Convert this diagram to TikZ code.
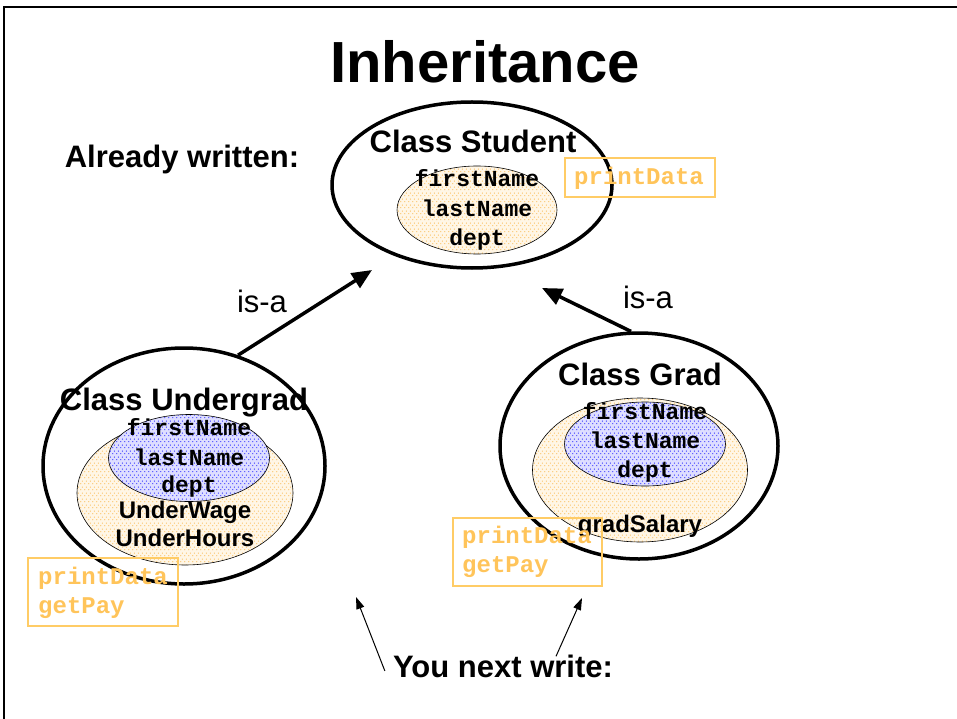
\documentclass[tikz,border=0pt]{standalone}
\usepackage{fontspec}
\setmainfont{Liberation Sans}
\newfontfamily\monob{Liberation Mono}
\usetikzlibrary{shapes.geometric,arrows.meta,patterns}
\definecolor{boxor}{RGB}{255,204,102}
\definecolor{textor}{RGB}{255,196,90}
\definecolor{dotor}{RGB}{250,185,80}
\definecolor{dotbl}{RGB}{30,30,255}
\definecolor{tintor}{RGB}{255,246,230}
\definecolor{tintbl}{RGB}{222,222,255}
\pgfdeclarepatternformonly{stagdots}{\pgfpointorigin}{\pgfqpoint{4pt}{6pt}}{\pgfqpoint{4pt}{6pt}}{%
  \pgfpathcircle{\pgfqpoint{1pt}{1.5pt}}{0.7pt}%
  \pgfpathcircle{\pgfqpoint{3pt}{4.5pt}}{0.7pt}%
  \pgfusepath{fill}}
\begin{document}
\begin{tikzpicture}[x=1pt,y=-1pt,
  outer/.style={draw,ellipse,line width=3.5pt,inner sep=0pt},
  inner/.style={draw,ellipse,line width=0.6pt,inner sep=0pt},
  orfill/.style={preaction={fill=tintor},pattern=stagdots,pattern color=dotor},
  blfill/.style={preaction={fill=tintbl},pattern=stagdots,pattern color=dotbl},
  labelf/.style={font=\bfseries\fontsize{31}{36}\selectfont,anchor=base,inner sep=0pt},
  isaf/.style={font=\fontsize{31}{36}\selectfont,anchor=base,inner sep=0pt},
  fieldf/.style={font=\monob\bfseries\fontsize{23}{29}\selectfont,anchor=base,inner sep=0pt},
  attrf/.style={font=\bfseries\fontsize{24}{28}\selectfont,anchor=base,inner sep=0pt},
  methf/.style={font=\monob\bfseries\fontsize{24}{29}\selectfont,text=textor,anchor=base west,inner sep=0pt},
  mbox/.style={draw=boxor,line width=1.2pt,rectangle,inner sep=0pt},
  bigarrow/.style={line width=3.5pt,-{Triangle[length=20pt,width=17pt]}},
  thinarrow/.style={line width=1pt,-{Triangle[length=12pt,width=8pt]}}
]
\useasboundingbox (0,0) rectangle (957,719);
\draw[line width=2pt] (4,719) -- (4,7) -- (957,7);

% title
\node[font=\bfseries\fontsize{58}{64}\selectfont,anchor=base,inner sep=0pt] (title) at (485,83) {Inheritance};
\node[labelf] (already) at (182,168) {Already written:};

% Student
\node[outer,minimum width=280,minimum height=166] (stu) at (472,185) {};
\node[inner,orfill,minimum width=160,minimum height=88] (stuin) at (477,210) {};
\node[fieldf] (stuf1) at (477,187) {firstName};
\node[fieldf] (stuf2) at (477,217) {lastName};
\node[fieldf] (stuf3) at (477,245) {dept};
\node[labelf] (stut) at (473,153) {Class Student};
\node[mbox,minimum width=150,minimum height=39] (stubox) at (640,177.5) {};
\node[methf] (stum1) at (574,185) {printData};

% Undergrad
\node[outer,minimum width=282,minimum height=236] (ug) at (184,466) {};
\node[inner,orfill,minimum width=216,minimum height=144] (ugor) at (185,493) {};
\node[inner,blfill,minimum width=161,minimum height=87] (ugbl) at (189,458) {};
\node[fieldf] (ugf1) at (189,435) {firstName};
\node[fieldf] (ugf2) at (189,465) {lastName};
\node[fieldf] (ugf3) at (189,492) {dept};
\node[attrf] (uga1) at (185,518) {UnderWage};
\node[attrf] (uga2) at (185,546) {UnderHours};
\node[labelf] (ugt) at (184,410) {Class Undergrad};
\node[mbox,minimum width=150,minimum height=68] (ugbox) at (103,592) {};
\node[methf] (ugm1) at (38,584) {printData};
\node[methf] (ugm2) at (38,613) {getPay};

% Grad
\node[outer,minimum width=278,minimum height=226] (gr) at (639,446) {};
\node[inner,orfill,minimum width=215,minimum height=144] (gror) at (640,470) {};
\node[inner,blfill,minimum width=161,minimum height=84] (grbl) at (645,444) {};
\node[fieldf] (grf1) at (645,419) {firstName};
\node[fieldf] (grf2) at (645,448) {lastName};
\node[fieldf] (grf3) at (645,477) {dept};
\node[attrf] (gra1) at (640,532) {gradSalary};
\node[labelf] (grt) at (640,385) {Class Grad};
\node[mbox,minimum width=149,minimum height=68] (grbox) at (527.5,552) {};
\node[methf] (grm1) at (462,543) {printData};
\node[methf] (grm2) at (462,572) {getPay};

% is-a arrows
\coordinate (tipL) at (372,270);
\coordinate (tipR) at (542,288);
\draw[bigarrow] (ug.64) -- (tipL);
\draw[bigarrow] (gr.94) -- (tipR);
\node[isaf] (isaL) at (262,312) {is-a};
\node[isaf] (isaR) at (648,308) {is-a};

% you next write
\node[labelf] (next) at (503,677) {You next write:};
\coordinate (nL) at (356,597);
\coordinate (nR) at (582,598);
\draw[thinarrow] ([xshift=-8pt,yshift=-5pt]next.west) -- (nL);
\draw[thinarrow] ([xshift=53pt,yshift=-2pt]next.north) -- (nR);
\end{tikzpicture}
\end{document}
